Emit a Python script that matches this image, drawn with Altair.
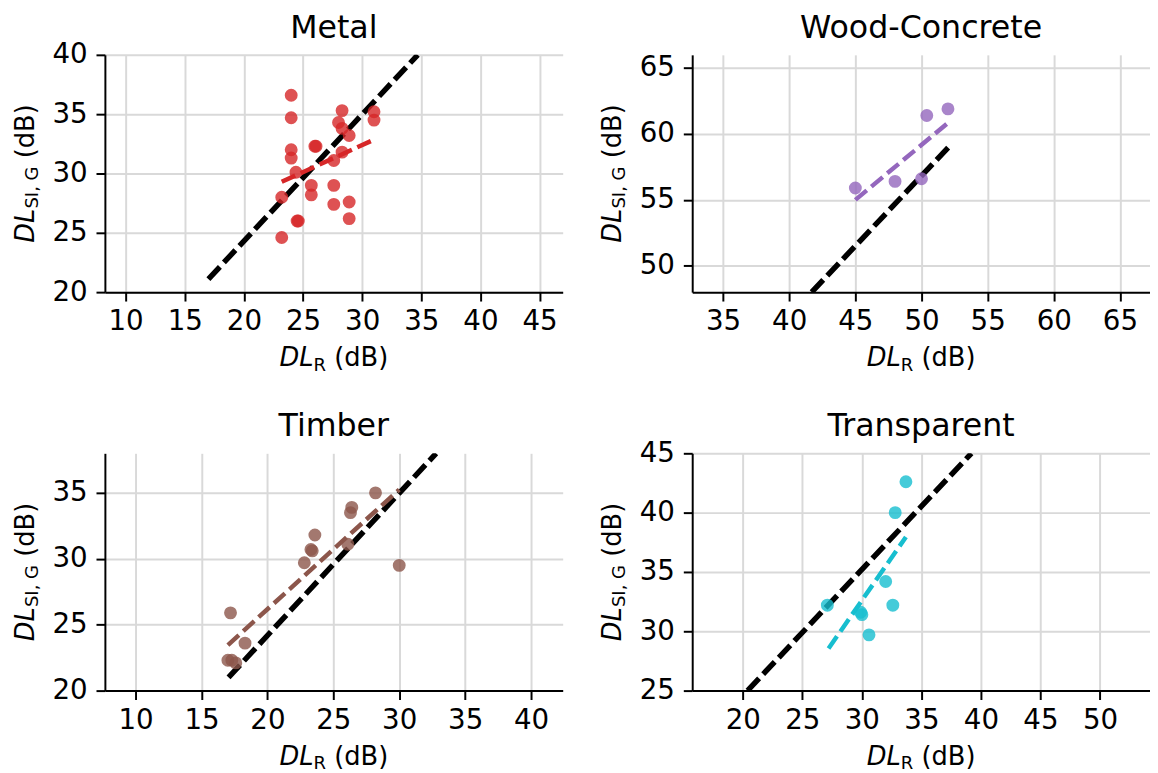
import altair as alt
import pandas as pd

FONT = "DejaVu Sans"

# ---------------- data ----------------
titles = ["Metal", "Wood-Concrete", "Timber", "Transparent"]
colors = ["#d62728", "#9467bd", "#8c564b", "#17becf"]

metal_x = [24.0, 24.0, 24.0, 24.0, 24.4, 23.2, 23.2, 24.5, 24.6, 26.0, 26.1, 25.7, 25.7,
           27.6, 27.6, 27.6, 28.3, 28.0, 28.3, 28.9, 28.3, 28.9, 28.9, 31.0, 31.0]
metal_y = [36.6, 34.7, 32.0, 31.3, 30.1, 28.0, 24.6, 26.0, 26.0, 32.3, 32.3, 29.0, 28.2,
           31.1, 29.0, 27.4, 35.3, 34.3, 33.8, 33.2, 31.8, 27.6, 26.2, 35.2, 34.5]

wood_x = [45.0, 48.0, 50.0, 50.4, 52.0]
wood_y = [55.9, 56.4, 56.6, 61.4, 61.9]

timber_x = [17.2, 18.3, 17.0, 17.3, 17.6, 22.8, 23.3, 23.4, 23.6, 26.1, 26.3, 26.4, 28.2, 30.0]
timber_y = [25.9, 23.6, 22.3, 22.3, 22.1, 29.7, 30.7, 30.6, 31.8, 31.1, 33.5, 33.9, 35.0, 29.5]

transp_x = [33.7, 32.8, 32.0, 32.6, 27.1, 29.9, 30.0, 30.6]
transp_y = [42.6, 40.0, 34.2, 32.2, 32.2, 31.6, 31.4, 29.7]

# coloured dashed fit lines (start, end)
fit_x = [[23.2, 31.0], [45.0, 51.9], [17.0, 30.0], [27.2, 33.7]]
fit_y = [[29.3, 32.85], [55.0, 60.75], [23.45, 35.25], [28.55, 37.95]]

# black dashed lines (start, end)
ref_x = [[17.0, 34.7], [41.7, 52.05], [17.05, 32.8], [20.4, 39.2]]
ref_y = [[21.1, 40.0], [48.0, 59.0], [21.0, 38.0], [25.0, 45.0]]

x_domains = [[8.25, 46.95], [32.67, 67.27], [7.67, 42.4], [15.75, 54.2]]
y_domains = [[20, 40], [48, 66], [20, 38], [25, 45]]
x_ticks = [[10, 15, 20, 25, 30, 35, 40, 45], [35, 40, 45, 50, 55, 60, 65],
           [10, 15, 20, 25, 30, 35, 40], [20, 25, 30, 35, 40, 45, 50]]
y_ticks = [[20, 25, 30, 35, 40], [50, 55, 60, 65], [20, 25, 30, 35], [25, 30, 35, 40, 45]]

xlabel_parts = ["DL", "R", "(dB)"]
ylabel_parts = ["DL", "SI, G", "(dB)"]

W, H = 463, 240
FS = 26      # axis title size
TFS = 28     # tick label size
SUB = 18.2


def text_layer(txt, x, y, size, dx=0, dy=0, angle=None, italic=False, align="left"):
    df = pd.DataFrame({"label": [txt]})
    kw = dict(fontSize=size, font=FONT, align=align, baseline="alphabetic",
              dx=dx, dy=dy, color="black")
    if angle is not None:
        kw["angle"] = angle
    if italic:
        kw["fontStyle"] = "italic"
    return alt.Chart(df).mark_text(**kw).encode(x=alt.value(x), y=alt.value(y), text="label:N")


def panel(i, xs, ys):
    color = colors[i]
    xs_ = alt.Scale(domain=x_domains[i], nice=False, zero=False)
    ys_ = alt.Scale(domain=y_domains[i], nice=False, zero=False)
    X = alt.X("x:Q", scale=xs_, axis=alt.Axis(values=x_ticks[i], title=None, format="d"))
    Y = alt.Y("y:Q", scale=ys_, axis=alt.Axis(values=y_ticks[i], title=None, format="d"))

    ref = alt.Chart(pd.DataFrame({"x": ref_x[i], "y": ref_y[i]})).mark_line(
        color="black", strokeWidth=5.5, strokeDash=[17, 6], clip=True).encode(x=X, y=Y)
    fit = alt.Chart(pd.DataFrame({"x": fit_x[i], "y": fit_y[i]})).mark_line(
        color=color, strokeWidth=4.5, strokeDash=[15, 6], clip=True).encode(x=X, y=Y)
    pts = alt.Chart(pd.DataFrame({"x": xs, "y": ys})).mark_circle(
        size=170, opacity=0.8, color=color).encode(x=X, y=Y)

    layers = [ref, fit, pts]
    # panel title
    layers.append(text_layer(titles[i], W / 2, -17, 32, align="center"))
    # x title
    xb = H + 75
    layers.append(text_layer(xlabel_parts[0], W / 2, xb, FS, dx=-55, italic=True))
    layers.append(text_layer(xlabel_parts[1], W / 2, xb, SUB, dx=-20.5, dy=4.5))
    layers.append(text_layer(xlabel_parts[2], W / 2, xb, FS, dx=0.4))
    # y title (rotated)
    yx = -72
    layers.append(text_layer(ylabel_parts[0], yx, H / 2, FS, dx=-70, angle=270, italic=True))
    layers.append(text_layer(ylabel_parts[1], yx, H / 2, SUB, dx=-35.5, dy=4.5, angle=270))
    layers.append(text_layer(ylabel_parts[2], yx, H / 2, FS, dx=15.4, angle=270))

    return alt.layer(*layers).properties(width=W, height=H)


p1 = panel(0, metal_x, metal_y)
p2 = panel(1, wood_x, wood_y)
p3 = panel(2, timber_x, timber_y)
p4 = panel(3, transp_x, transp_y)

chart = alt.concat(
    p1, p2, p3, p4, columns=2,
    spacing={"row": 163, "column": 131}, bounds="flush",
).properties(
    padding={"left": 5, "top": 0, "right": 0, "bottom": 0}
).configure_view(stroke=None).configure_axis(
    domainColor="black", domainWidth=2, tickColor="black", tickWidth=2, tickSize=9,
    labelFontSize=TFS, labelFont=FONT, labelColor="black",
    gridColor="#d9d9d9", gridWidth=2, labelPadding=7,
).configure_axisY(labelPadding=9)

chart.save("out.html", embed_options={"renderer": "svg", "actions": False})
